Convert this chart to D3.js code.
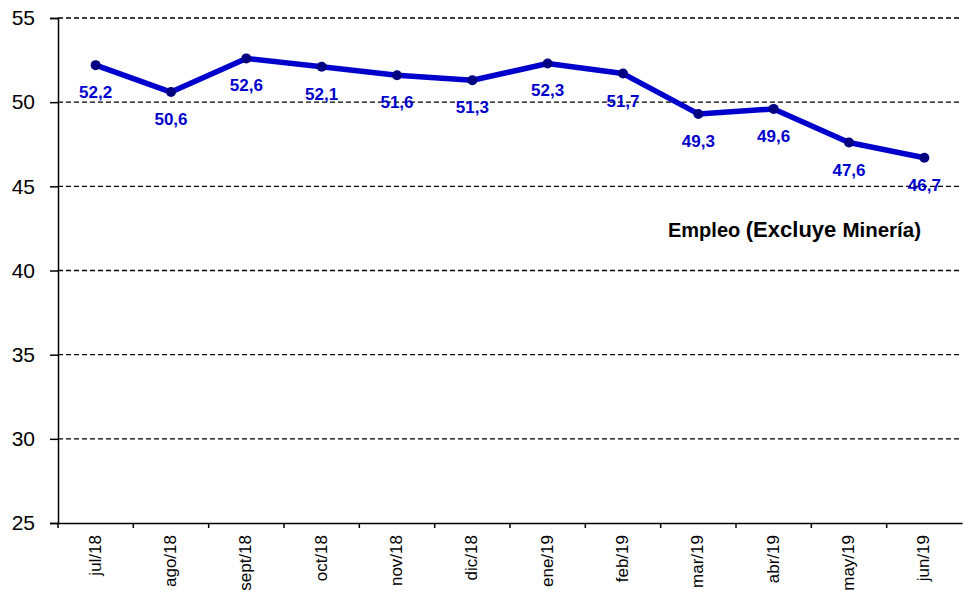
<!DOCTYPE html>
<html><head><meta charset="utf-8">
<script src="https://cdn.jsdelivr.net/npm/d3@7"></script>
<style>body{margin:0;background:#fff}svg{display:block}</style>
</head><body>
<svg id="c" width="964" height="590"></svg>
<script>
const categories = ["jul/18","ago/18","sept/18","oct/18","nov/18","dic/18","ene/19","feb/19","mar/19","abr/19","may/19","jun/19"];
const values = [52.2,50.6,52.6,52.1,51.6,51.3,52.3,51.7,49.3,49.6,47.6,46.7];
const labels = ["52,2","50,6","52,6","52,1","51,6","51,3","52,3","51,7","49,3","49,6","47,6","46,7"];
const yTicks = [25,30,35,40,45,50,55];

const svg = d3.select("#c");
const L = 58, R = 962, T = 18, B = 523;
const FONT = "Arial, 'Liberation Sans', sans-serif";
const x = d3.scaleBand().domain(categories).range([L, R]);
const y = d3.scaleLinear().domain([25, 55]).range([B, T]);

// gridlines
svg.append("g").selectAll("line").data(yTicks.filter(d => d > 25)).join("line")
  .attr("x1", L).attr("x2", R).attr("y1", d => y(d)).attr("y2", d => y(d))
  .attr("stroke", "#000").attr("stroke-width", 1.3).attr("stroke-dasharray", "5,3");

// y axis
const ya = svg.append("g").attr("transform", `translate(${L},0)`)
  .call(d3.axisLeft(y).tickValues(yTicks).tickSize(8).tickPadding(15).tickFormat(d3.format("d")));
ya.select(".domain").attr("stroke", "#000").attr("stroke-width", 1.5);
ya.selectAll(".tick line").attr("stroke", "#000").attr("stroke-width", 1.5);
ya.selectAll("text").attr("font-family", FONT).attr("font-size", 21).attr("fill", "#000");

// x axis
const xa = svg.append("g").attr("transform", `translate(0,${B})`)
  .call(d3.axisBottom(x).tickSize(0).tickFormat(""));
xa.select(".domain").attr("stroke", "#000").attr("stroke-width", 1.5);
const bounds = categories.map(c => x(c));
svg.append("g").selectAll("line").data(bounds).join("line")
  .attr("x1", d => d).attr("x2", d => d).attr("y1", B).attr("y2", B + 5)
  .attr("stroke", "#000").attr("stroke-width", 1.5);
svg.append("g").selectAll("text").data(categories).join("text")
  .attr("transform", d => `translate(${x(d) + x.bandwidth()/2 + 5},${B + 12}) rotate(-90)`)
  .attr("text-anchor", "end")
  .attr("font-family", FONT).attr("font-size", 17)
  .attr("fill", "#000").text(d => d);

// line
const cx = (d, i) => x(categories[i]) + x.bandwidth()/2;
const line = d3.line().x(cx).y(d => y(d));
svg.append("path").datum(values).attr("d", line)
  .attr("fill", "none").attr("stroke", "#0000CC").attr("stroke-width", 5.5).attr("stroke-linejoin", "round");
svg.append("g").selectAll("circle").data(values).join("circle")
  .attr("cx", cx).attr("cy", d => y(d)).attr("r", 5).attr("fill", "#000080");

// data labels
svg.append("g").selectAll("text").data(values).join("text")
  .attr("x", cx).attr("y", d => y(d) + 33)
  .attr("text-anchor", "middle")
  .attr("font-family", FONT).attr("font-weight", "bold").attr("font-size", 17)
  .attr("fill", "#0000CC").text((d, i) => labels[i]);

// annotation
const t = svg.append("text").attr("x", 668).attr("y", 237)
  .attr("font-family", FONT).attr("font-weight", "bold").attr("fill", "#000");
t.append("tspan").attr("font-size", 20).text("Empleo ");
t.append("tspan").attr("font-size", 22).text("(Excluye ");
t.append("tspan").attr("font-size", 20.5).text("Minería)");
</script>
</body></html>
